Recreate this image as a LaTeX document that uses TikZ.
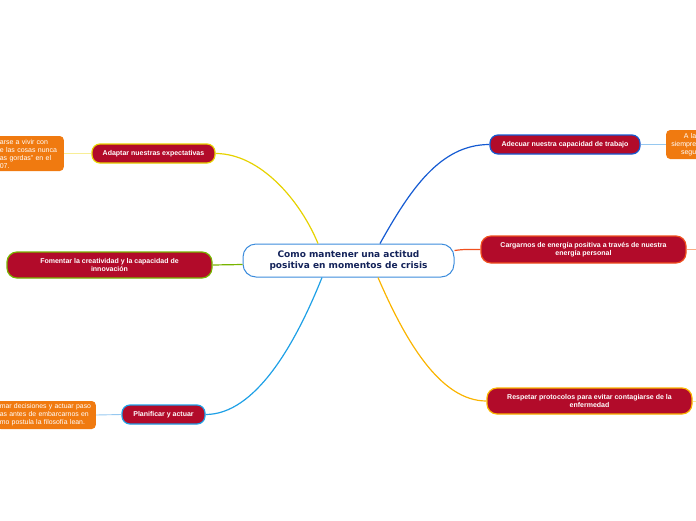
\documentclass[tikz,border=0pt]{standalone}
\usepackage{fontspec}
\setmainfont{Liberation Sans}
\newfontfamily\cfont{DejaVu Sans}
\usetikzlibrary{calc}
\definecolor{crim}{RGB}{178,11,42}
\definecolor{leaforange}{RGB}{240,122,16}
\definecolor{cblue}{RGB}{60,140,220}
\definecolor{navy}{RGB}{20,35,90}
\definecolor{byellow}{RGB}{230,210,0}
\definecolor{bgreen}{RGB}{120,180,0}
\definecolor{bblue}{RGB}{30,160,230}
\definecolor{bdblue}{RGB}{20,90,210}
\definecolor{bred}{RGB}{240,80,30}
\definecolor{borange}{RGB}{250,180,0}
\definecolor{lyellow}{RGB}{248,238,150}
\definecolor{lblue}{RGB}{150,200,240}
\definecolor{lorange}{RGB}{250,170,130}
\begin{document}
\begin{tikzpicture}[x=1pt,y=-1pt,
  central/.style={draw=cblue, line width=1pt, fill=white, rounded corners=13pt,
    text=navy, font=\cfont\bfseries\fontsize{9}{11}\selectfont, align=center, inner sep=0pt},
  branch/.style={line width=1.2pt, fill=crim, rounded corners=8pt, text=white,
    font=\bfseries\fontsize{7}{8.5}\selectfont, align=center, inner sep=0pt},
  leaf/.style={fill=leaforange, rounded corners=4pt, text=white, inner ysep=0pt,
    font=\fontsize{7}{8}\selectfont},
  conn/.style={line width=1.2pt},
  lconn/.style={line width=0.9pt}]
\useasboundingbox (0,0) rectangle (696,520);
\clip (0,0) rectangle (696,520);

\node[central, minimum width=211pt, minimum height=33pt] (c) at (348.5,260.5)
  {Como mantener una actitud\\positiva en momentos de crisis};

\node[branch, draw=byellow, minimum width=123pt, minimum height=19pt] (n1) at (153.5,153.5)
  {Adaptar nuestras expectativas};
\node[branch, draw=bgreen, minimum width=205pt, minimum height=26pt, rounded corners=10pt] (n2) at (109.5,265)
  {Fomentar la creatividad y la capacidad de\\innovación};
\node[branch, draw=bblue, minimum width=83pt, minimum height=19pt] (n3) at (163.5,414.5)
  {Planificar y actuar};
\node[branch, draw=bdblue, minimum width=150pt, minimum height=19pt] (n4) at (565,144.5)
  {Adecuar nuestra capacidad de trabajo};
\node[branch, draw=bred, minimum width=205pt, minimum height=27pt, rounded corners=10pt] (n5) at (583.5,249.5)
  {Cargarnos de energía positiva a través de nuestra\\energía personal};
\node[branch, draw=borange, minimum width=205pt, minimum height=26pt, rounded corners=10pt] (n6) at (589.5,401)
  {Respetar protocolos para evitar contagiarse de la\\enfermedad};

\node[leaf, anchor=east, text width=60pt, inner xsep=4pt, minimum height=35pt, align=left] (l1) at (64,153.5)
  {arse a vivir con\\e las cosas nunca\\as gordas" en el\\07.};
\node[leaf, anchor=east, text width=93pt, inner xsep=3pt, minimum height=28pt, align=left,
  font=\fontsize{6.9}{8}\selectfont] (l2) at (96,415)
  {mar decisiones y actuar paso\\as antes de embarcarnos en\\mo postula la filosofía lean.};
\node[leaf, anchor=west, text width=26pt, inner xsep=4pt, minimum height=29pt, align=right] (l3) at (666,144.5)
  {A la\\siempre\\segu};

\coordinate (c1) at ($(c.north)+(-30.5,0)$);
\coordinate (c2) at ($(c.north)+(31.5,0)$);
\coordinate (c3) at ($(c.south)+(-26.5,0)$);
\coordinate (c4) at ($(c.south)+(29.5,0)$);
\coordinate (c5) at ($(c.west)+(0,4)$);
\coordinate (c6) at ($(c.east)+(0,-10)$);
\coordinate (o5) at ($(n5.east)+(20,0)$);
\coordinate (o6) at ($(n6.east)+(20,0)$);

\draw[conn, byellow] (c1) .. controls (300,200) and (260,153.5) .. (n1.east);
\draw[conn, bdblue] (c2) .. controls (410,190) and (440,144.5) .. (n4.west);
\draw[conn, bblue] (c3) .. controls (295,345) and (255,414.5) .. (n3.east);
\draw[conn, borange] (c4) .. controls (405,340) and (440,401) .. (n6.west);
\draw[conn, bgreen] (c5) -- (n2.east);
\draw[conn, bred] (c6) .. controls (465,249) and (470,249.5) .. (n5.west);

\draw[lconn, lyellow] (n1.west) -- (l1.east);
\draw[lconn, lblue] (n3.west) -- (l2.east);
\draw[lconn, lblue] (n4.east) -- (l3.west);
\draw[lconn, lorange] (n5.east) -- (o5);
\draw[lconn, lyellow] (n6.east) -- (o6);
\end{tikzpicture}
\end{document}
